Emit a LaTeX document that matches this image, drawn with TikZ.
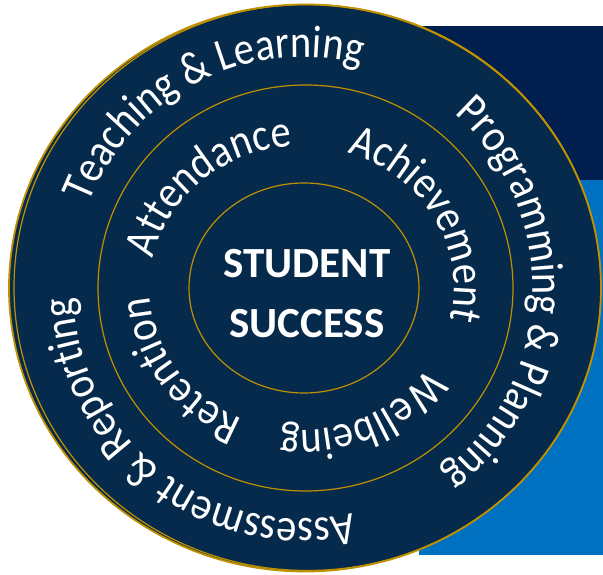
\documentclass[tikz,border=0pt]{standalone}
\usepackage{fontspec}
\setmainfont{Carlito}
\newfontfamily\ringfamily[FakeStretch=0.88]{Carlito}
\usetikzlibrary{decorations.text}
\definecolor{ringfill}{HTML}{062A4B}
\definecolor{ringgold}{HTML}{BF9000}
\definecolor{topnavy}{HTML}{001F4F}
\definecolor{sideblue}{HTML}{0070C0}
\newcommand\ringfont{\ringfamily\fontsize{46}{54}\selectfont}
\begin{document}
\begin{tikzpicture}[x=1pt, y=1pt,
    ring/.style={draw=ringgold, line width=1.2pt},
    ringtext/.style={decorate, decoration={text along path, text align=center, text color=white,
        text={|\ringfont|#1}}},
    core/.style={text=white, font=\bfseries\fontsize{43}{50}\selectfont, anchor=base, inner sep=0pt}]
    \useasboundingbox (0,0) rectangle (603,575);
    \fill [topnavy] (419,395) rectangle (603,549);
    \fill [sideblue] (419,20) rectangle (603,395);

    \draw [ring, fill=ringfill, line width=1.8pt] (305,287) ellipse [x radius=296, y radius=283.5];
    \draw [ring] (307.5,287.5) ellipse [x radius=293.5, y radius=283];
    \draw [ring] (305.5,287) ellipse [x radius=207.5, y radius=203];
    \draw [ring] (304,287) ellipse [x radius=115, y radius=105];

    \path [ringtext={Teaching {\&} Learning}] (303,287) ++(197:230 and 231) arc [start angle=197, end angle=37, x radius=230, y radius=231];
    \path [ringtext={Programming {\&} Planning}] (303,287) ++(78:230 and 231) arc [start angle=78, end angle=-82, x radius=230, y radius=231];
    \path [ringtext={Assessment {\&} Reporting}] (303,287) ++(-47.5:230 and 231) arc [start angle=-47.5, end angle=-207.5, x radius=230, y radius=231];

    \path [ringtext={Attendance}] (302,287) ++(212:152 and 142) arc [start angle=212, end angle=52, x radius=152, y radius=142];
    \path [ringtext={Achievement}] (302,287) ++(109:152 and 142) arc [start angle=109, end angle=-51, x radius=152, y radius=142];
    \path [ringtext={Wellbeing}] (302,287) ++(15:152 and 142) arc [start angle=15, end angle=-145, x radius=152, y radius=142];
    \path [ringtext={Retention}] (302,287) ++(-66:152 and 142) arc [start angle=-66, end angle=-226, x radius=152, y radius=142];

    \node [core] (student) at (307,297) {STUDENT};
    \node [core] (success) at (307,237) {SUCCESS};
\end{tikzpicture}
\end{document}
